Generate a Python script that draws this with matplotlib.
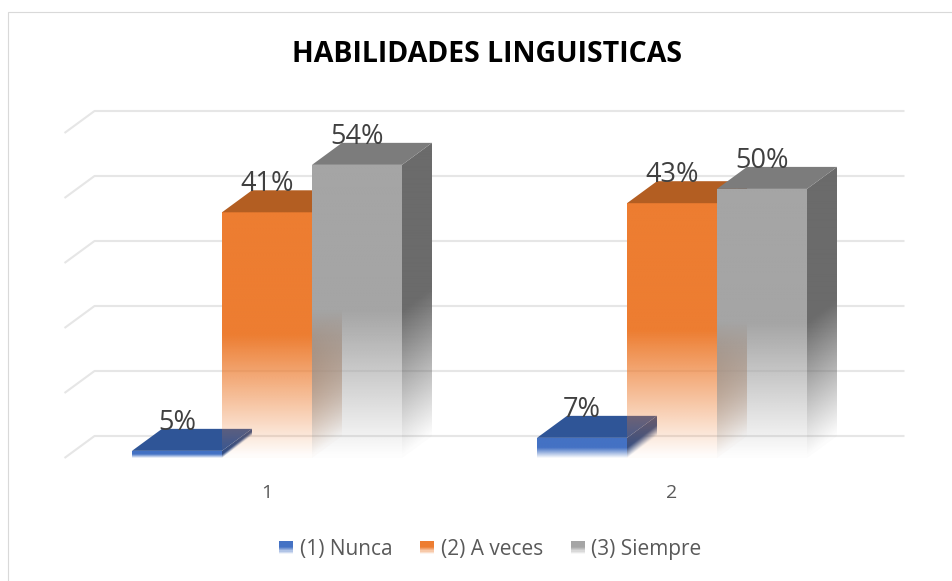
import numpy as np
import matplotlib
matplotlib.use('Agg')
import matplotlib.pyplot as plt
import matplotlib.colors as mcolors
from matplotlib.patches import Rectangle, Polygon, Patch
from matplotlib.legend_handler import HandlerBase
from matplotlib.transforms import offset_copy

# ---------------- data ----------------
title = 'HABILIDADES LINGUISTICAS'
categories = ['1', '2']
series_names = ['(1) Nunca', '(2) A veces', '(3) Siempre']
# bar heights read against the back-wall gridlines (gridline step = 10)
nunca = [1.1, 3.1]
a_veces = [37.8, 39.2]
siempre = [45.1, 41.4]
# data label values printed above the bars (%)
nunca_pct = [5, 7]
a_veces_pct = [41, 43]
siempre_pct = [54, 50]
grid_values = [0, 10, 20, 30, 40, 50]

# ---------------- style ----------------
front_colors = ['#4472C4', '#ED7D31', '#A5A5A5']
top_colors = ['#2F5597', '#B35E22', '#7C7C7C']
side_colors = ['#2B4C88', '#A3541C', '#6B6B6B']
label_color = '#404040'
axis_text_color = '#595959'
grid_color = '#E6E6E6'

plt.rcParams['font.family'] = ['Open Sans', 'DejaVu Sans']

W, H, DPI = 952, 581, 100
fig = plt.figure(figsize=(W / DPI, H / DPI), dpi=DPI)
ax = fig.add_axes([0, 0, 1, 1])
ax.set_axis_off()

# layout of the oblique projection (pixels)
px_per_cat = 405.0
px_per_val = 6.5
x0_px = 267.0   # front centre of first category
y0_px = 458.0   # front baseline (from top)
xlim = (-x0_px / px_per_cat, (W - x0_px) / px_per_cat)
ylim = (-(H - y0_px) / px_per_val, y0_px / px_per_val)

dx = 30.0 / px_per_cat          # depth offset in category units
dy = 22.0 / px_per_val          # depth offset in value units
n_series = 3
gap = 1.5
bar_w = 1.0 / (n_series + gap)


def fade(t):
    return np.clip(t / 0.5, 0.02, 1.0)


def gradient_face(poly, rgb, xmin, xmax, vmin, vmax, tfunc, zorder):
    nx, ny = 60, 400
    xs = np.linspace(xmin, xmax, nx)
    vs = np.linspace(vmin, vmax, ny)
    X, V = np.meshgrid(xs, vs)
    img = np.zeros((ny, nx, 4))
    img[..., :3] = rgb
    img[..., 3] = fade(tfunc(X, V))
    im = ax.imshow(img, extent=(xmin, xmax, vmin, vmax), origin='lower',
                   aspect='auto', interpolation='bilinear', zorder=zorder)
    clip = Polygon(poly, closed=True, transform=ax.transData,
                   facecolor='none', edgecolor='none')
    im.set_clip_path(clip)


# chart border
fig.patches.append(Rectangle((7.5 / W, -0.1), 1.2, 1 - 12.5 / H + 0.1,
                             transform=fig.transFigure, fill=False,
                             edgecolor='#D9D9D9', linewidth=0.8))

# gridlines on back wall + floor diagonals on the left
x_left = -0.5
x_right = len(categories) - 0.5
for v in grid_values:
    ax.plot([x_left, x_left + dx, x_right + dx], [v, v + dy, v + dy],
            color=grid_color, lw=1.5, solid_capstyle='butt', zorder=1)

values = [nunca, a_veces, siempre]
pcts = [nunca_pct, a_veces_pct, siempre_pct]

z = 2
for c in range(len(categories)):
    for s in range(n_series):
        h = values[s][c]
        xl = c - n_series * bar_w / 2 + s * bar_w
        xr = xl + bar_w

        side_rgb = mcolors.to_rgb(side_colors[s])
        front_rgb = mcolors.to_rgb(front_colors[s])
        # side face (gradient follows bar height, slanted in projection)
        gradient_face([(xr, 0), (xr + dx, dy), (xr + dx, h + dy), (xr, h)],
                      side_rgb, xr, xr + dx, 0, h + dy,
                      lambda X, V, xr=xr, h=h: (V - (X - xr) / dx * dy) / h, z)
        # front face
        gradient_face([(xl, 0), (xr, 0), (xr, h), (xl, h)],
                      front_rgb, xl, xr, 0, h,
                      lambda X, V, h=h: V / h, z)
        # top face
        ax.add_patch(Polygon([(xl, h), (xr, h), (xr + dx, h + dy), (xl + dx, h + dy)],
                             closed=True, facecolor=top_colors[s],
                             edgecolor='none', zorder=z))
        z += 1
        ax.text(xl + bar_w / 2, h + dy, f'{pcts[s][c]}%',
                transform=offset_copy(ax.transData, fig, x=0, y=-1, units='dots'),
                ha='center', va='baseline', fontsize=19.5, color=label_color,
                zorder=50)

# category labels
for c, cat in enumerate(categories):
    ax.text(c, 0, cat,
            transform=offset_copy(ax.transData, fig, x=0, y=-35, units='dots'),
            ha='center', va='center', fontsize=14, color=axis_text_color)

ax.set_xlim(*xlim)
ax.set_ylim(*ylim)

# title
fig.text(487.5 / W, 1 - 62 / H, title, ha='center', va='baseline',
         fontsize=20.5, fontweight='bold', color='black')


class GradientHandler(HandlerBase):
    def create_artists(self, legend, orig_handle, xdescent, ydescent,
                       width, height, fontsize, trans):
        col = mcolors.to_rgb(orig_handle.get_facecolor())
        arts = []
        k_n = 12
        for k in range(k_n):
            t = (k + 0.5) / k_n
            arts.append(Rectangle((-xdescent, -ydescent + height * k / k_n),
                                  width, height / k_n, facecolor=col,
                                  alpha=float(fade(t)), edgecolor='none',
                                  antialiased=False, transform=trans))
        return arts


handles = [Patch(facecolor=front_colors[i], label=series_names[i])
           for i in range(n_series)]
fig.legend(handles=handles, loc='center', bbox_to_anchor=(490.5 / W, 1 - 549 / H),
           ncol=3, frameon=False, fontsize=15, labelcolor=axis_text_color,
           handler_map={Patch: GradientHandler()}, handlelength=0.67,
           handleheight=0.6, handletextpad=0.3, columnspacing=1.35)

fig.savefig('out.png', dpi=DPI, facecolor='white')
